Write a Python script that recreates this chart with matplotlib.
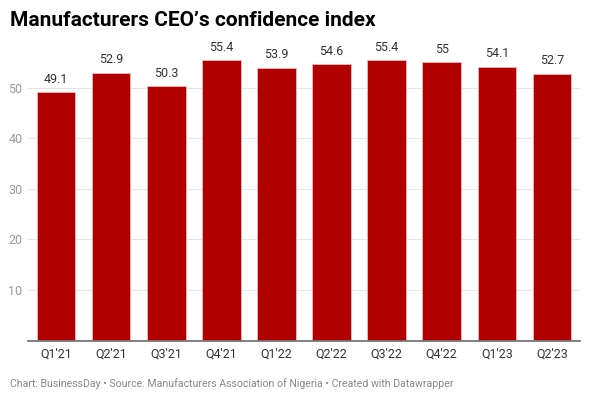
import matplotlib
matplotlib.use("Agg")
import matplotlib.pyplot as plt

categories = ["Q1'21", "Q2'21", "Q3'21", "Q4'21", "Q1'22", "Q2'22", "Q3'22", "Q4'22", "Q1'23", "Q2'23"]
values = [49.1, 52.9, 50.3, 55.4, 53.9, 54.6, 55.4, 55, 54.1, 52.7]
labels = ["49.1", "52.9", "50.3", "55.4", "53.9", "54.6", "55.4", "55", "54.1", "52.7"]
yticks = [10, 20, 30, 40, 50]

plt.rcParams['font.family'] = ['Roboto', 'DejaVu Sans']

W, H = 590, 400
fig = plt.figure(figsize=(W/100, H/100), dpi=100)
ax_left, ax_right = 28/W, 580/W
ax_bottom, ax_top = (H-340.7)/H, (H-57.3)/H
ax = fig.add_axes([ax_left, ax_bottom, ax_right-ax_left, ax_top-ax_bottom])

x = list(range(len(categories)))
ax.bar(x, values, width=0.7, color="#b00000", edgecolor="#f0b8b8", linewidth=0.6, zorder=3)
for xi, v, lab in zip(x, values, labels):
    ax.text(xi, v + 1.3, lab, ha="center", va="bottom", fontsize=9, color="#333333", zorder=4)

ax.set_xlim(-0.51, len(categories) - 0.49)
ax.set_ylim(0, 56)
ax.set_yticks(yticks)
ax.set_yticklabels([str(t) for t in yticks])
ax.yaxis.grid(True, color="#e6e6e6", linewidth=0.8, zorder=0)
ax.set_xticks(x)
ax.set_xticklabels(categories)
ax.tick_params(axis="x", length=0, pad=5, labelsize=9, labelcolor="#333333")
ax.tick_params(axis="y", length=0, pad=4, labelsize=9, labelcolor="#999999")
for side in ["top", "right", "left"]:
    ax.spines[side].set_visible(False)
ax.spines["bottom"].set_color("#777777")
ax.spines["bottom"].set_linewidth(1.3)
ax.spines["bottom"].set_zorder(5)

fig.text(10/W, 1 - 20/H, "Manufacturers CEO\u2019s confidence index", fontsize=15,
         fontweight="bold", color="#000000", ha="left", va="center")
fig.text(10/W, 1 - 384/H, "Chart: BusinessDay \u2022 Source: Manufacturers Association of Nigeria \u2022 Created with Datawrapper",
         fontsize=7.6, color="#888888", ha="left", va="center")

fig.savefig("out.png", dpi=100)
